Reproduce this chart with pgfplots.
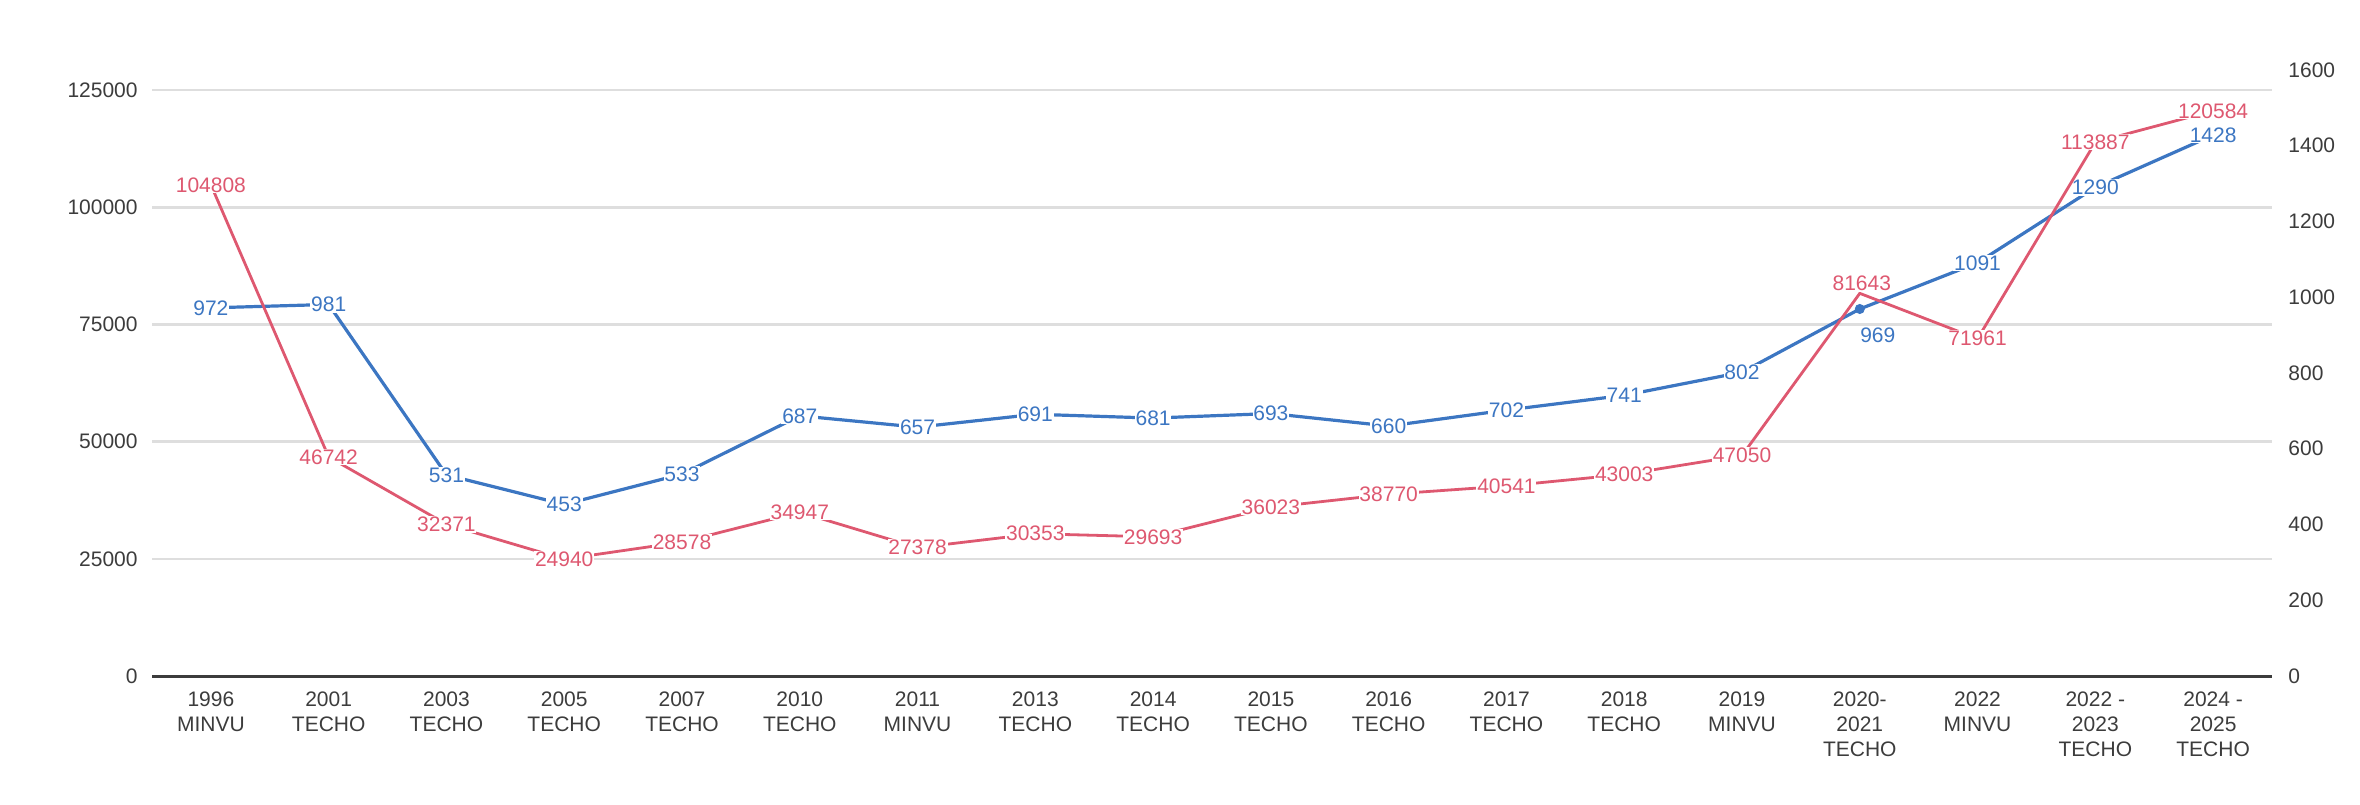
\documentclass[border=0pt]{standalone}
\usepackage{pgfplots}
\pgfplotsset{compat=1.18}
\usepackage{pgfplotstable}
\usepackage{fontspec}
\setmainfont{Liberation Sans}
\definecolor{cblue}{RGB}{60,118,194}
\definecolor{cred}{RGB}{222,88,112}
\definecolor{ctick}{RGB}{60,60,60}

\pgfplotstableread{
x y dx dy
0 104808 0 0
1 46742 0 0
2 32371 0 0
3 24940 0 0
4 28578 0 0
5 34947 0 0
6 27378 0 0
7 30353 0 0
8 29693 0 0
9 36023 0 0
10 38770 0 0
11 40541 0 0
12 43003 0 0
13 47050 0 0
14 81643 1 5
15 71961 0 0
16 113887 0 0
17 120584 0 0
}\reddata

\pgfplotstableread{
x y dx dy
0 972 0 0
1 981 0 0
2 531 0 0
3 453 0 0
4 533 0 0
5 687 0 0
6 657 0 0
7 691 0 0
8 681 0 0
9 693 0 0
10 660 0 0
11 702 0 0
12 741 0 0
13 802 0 0
14 969 9 -13
15 1091 0 0
16 1290 0 0
17 1428 0 0
}\bluedata

\begin{document}
\begin{tikzpicture}
\path[use as bounding box] (0,0) rectangle (1180pt,402pt);
\pgfplotsset{
  base/.style={
    at={(76pt,64pt)}, anchor=south west,
    scale only axis, width=1060pt, height=303pt,
    xmin=-0.5, xmax=17.5,
    axis line style={draw=none},
    tick style={draw=none},
    clip=false,
    scaled y ticks=false, scaled x ticks=false,
    ticklabel style={font=\fontsize{10.5}{12.5}\selectfont, text=ctick},
  },
  lbl/.style={
    nodes near coords, point meta=explicit symbolic,
    visualization depends on={\thisrow{dx} \as \ddx},
    visualization depends on={\thisrow{dy} \as \ddy},
    every node near coord/.append style={anchor=center, inner sep=0.4pt, fill=white,
      font=\fontsize{10.5}{12}\selectfont, xshift=\ddx pt, yshift=\ddy pt},
  },
}
% grid, left ticks, x labels
\begin{axis}[base,
  ymin=0, ymax=129300,
  ytick={0,25000,50000,75000,100000,125000},
  yticklabels={0,25000,50000,75000,100000,125000},
  yticklabel style={anchor=east, inner sep=0pt, xshift=-7pt},
  ymajorgrids, major grid style={draw=black!13, line width=1.2pt},
  xtick={0,...,17},
  xticklabels={{1996\\MINVU},{2001\\TECHO},{2003\\TECHO},{2005\\TECHO},{2007\\TECHO},{2010\\TECHO},{2011\\MINVU},{2013\\TECHO},{2014\\TECHO},{2015\\TECHO},{2016\\TECHO},{2017\\TECHO},{2018\\TECHO},{2019\\MINVU},{2020-\\2021\\TECHO},{2022\\MINVU},{2022 -\\2023\\TECHO},{2024 -\\2025\\TECHO}},
  xticklabel style={align=center, anchor=north, inner sep=0pt, yshift=-7.5pt, font=\fontsize{10.5}{12.5}\selectfont},
]
\draw[ctick, line width=1.5pt] (rel axis cs:0,0) -- (rel axis cs:1,0);
\end{axis}
% blue series, right axis
\begin{axis}[base,
  ymin=0, ymax=1600,
  ytick={0,200,400,600,800,1000,1200,1400,1600},
  yticklabels={0,200,400,600,800,1000,1200,1400,1600},
  yticklabel pos=right,
  yticklabel style={anchor=west, inner sep=0pt, xshift=8pt},
  xtick=\empty,
]
\addplot[cblue, line width=1.6pt, mark=none, lbl, every node near coord/.append style={text=cblue}]
  table[x=x, y=y, meta=y] {\bluedata};
\addplot[cblue, only marks, mark=*, mark size=2.3pt] coordinates {(14,969)};
\end{axis}
% red series, left scale
\begin{axis}[base,
  ymin=0, ymax=129300,
  ytick=\empty, xtick=\empty,
]
\addplot[cred, line width=1.4pt, mark=none, lbl, every node near coord/.append style={text=cred}]
  table[x=x, y=y, meta=y] {\reddata};
\end{axis}
\end{tikzpicture}
\end{document}
